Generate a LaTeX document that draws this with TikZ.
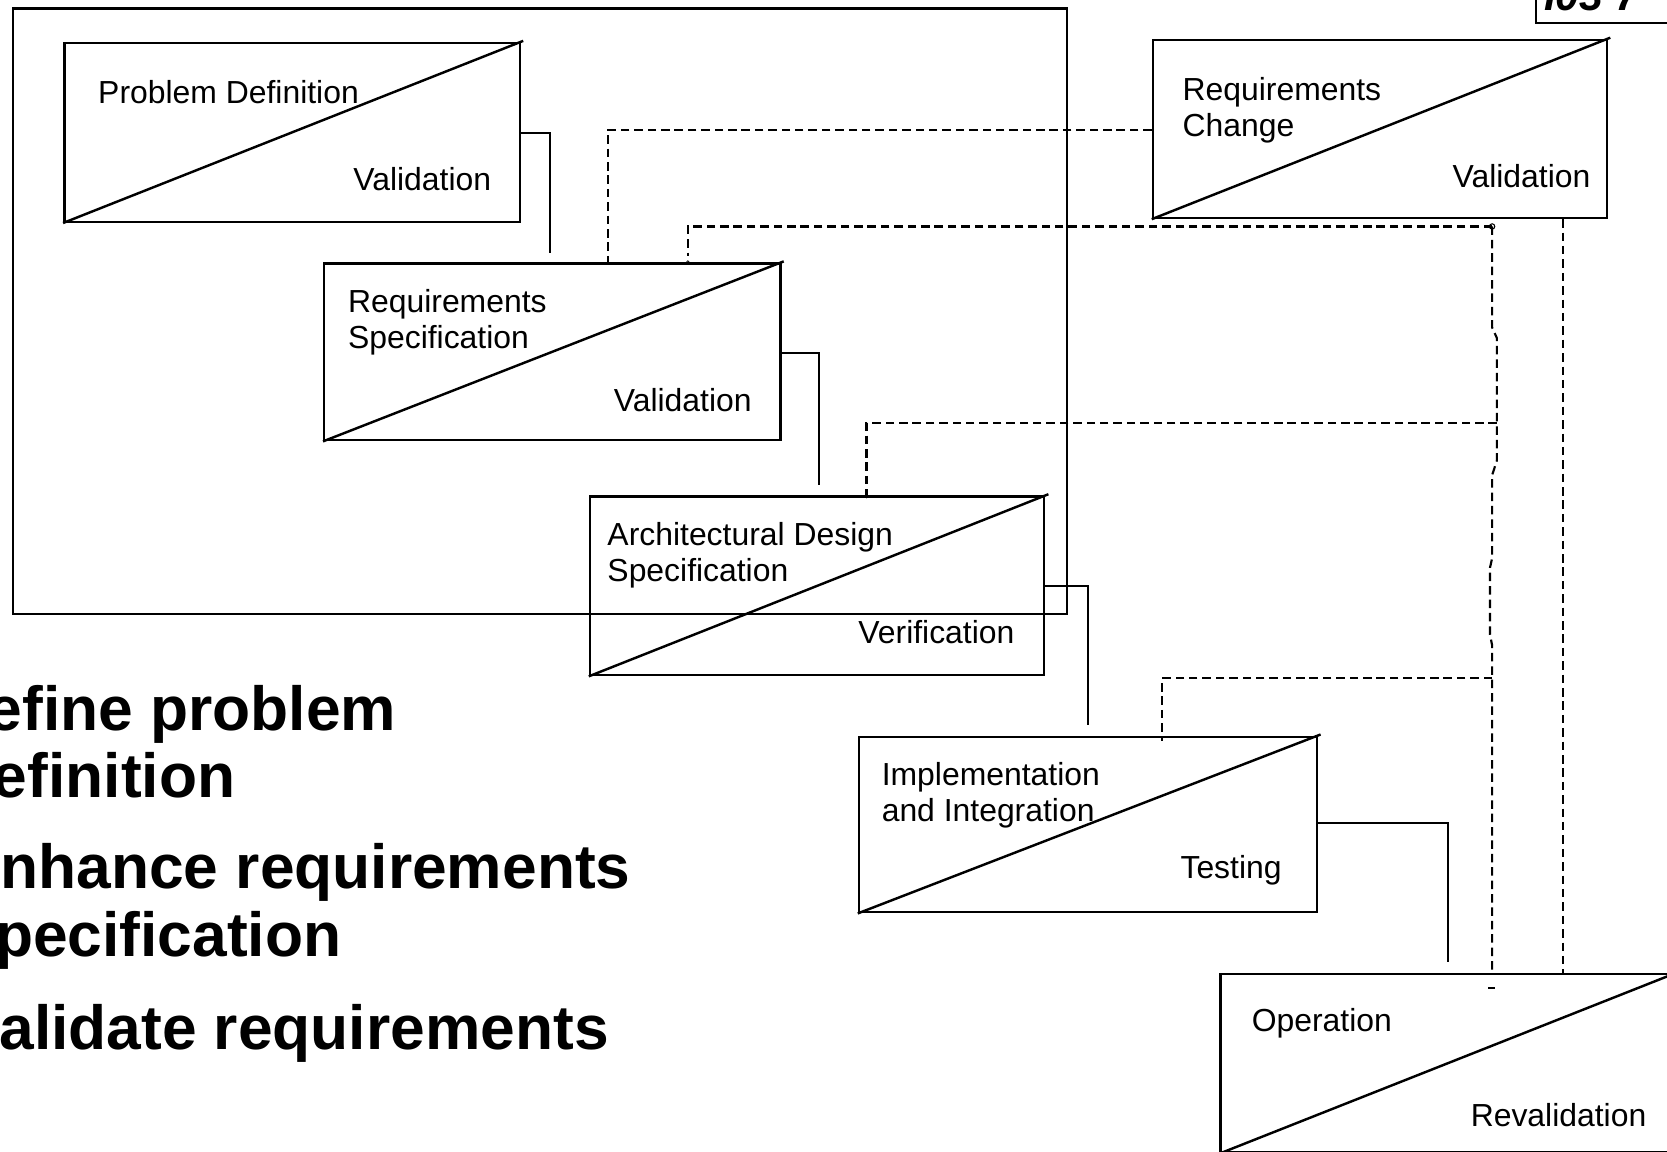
\documentclass[tikz,border=0pt]{standalone}
\usepackage{fontspec}
\setmainfont{Liberation Sans}
\usetikzlibrary{calc}
\begin{document}
\begin{tikzpicture}[x=0.5pt,y=-0.5pt,
  procbox/.style={draw, line width=1.15pt, inner sep=0pt, minimum width=214pt, minimum height=84pt},
  diag/.style={line width=1.15pt},
  lbl/.style={font=\fontsize{15}{17}\selectfont, inner sep=0pt, anchor=base west},
  mlbl/.style={font=\fontsize{15}{17}\selectfont, inner sep=0pt, anchor=north west, align=left},
  conn/.style={line width=1pt},
  dconn/.style={line width=1pt, dash pattern=on 4pt off 2.3pt},
  big/.style={font=\fontsize{29.3}{32}\selectfont\bfseries, inner sep=0pt, anchor=base west}]
\useasboundingbox (0,0) rectangle (1568,1083);
\clip (0,0) rectangle (1568,1083);

% outer frame
\node[draw, line width=1pt, inner sep=0pt, minimum width=495.75pt, minimum height=284.75pt] (frame) at (507.75,292.75) {};

% process boxes
\node[procbox, minimum width=214.25pt] (pd) at (274.75,124.6) {};
\node[procbox, minimum width=214.5pt, minimum height=83pt] (rs) at (519.5,331) {};
\node[procbox, minimum width=213.5pt] (ad) at (768.5,551) {};
\node[procbox, minimum width=215.5pt, minimum height=82.5pt] (ii) at (1023.5,775.5) {};
\node[procbox, minimum width=213.5pt, minimum height=83.7pt] (rc) at (1298,121.3) {};
\node[procbox] (op) at (1362,1000) {};

% diagonals
\draw[diag] (pd.south west) -- ($(pd.north east)+(2,-1)$);
\draw[diag] (rs.south west) -- ($(rs.north east)+(2,-1)$);
\draw[diag] (ad.south west) -- ($(ad.north east)+(3,-1)$);
\draw[diag] (ii.south west) -- ($(ii.north east)+(2,-1)$);
\draw[diag] (rc.south west) -- ($(rc.north east)+(2,-1)$);
\draw[diag] (op.south west) -- (op.north east);

% labels
\node[lbl] (pdt) at (92,97) {Problem Definition};
\node[lbl] (pdv) at (332,179) {Validation};
\node[mlbl] (rst) at (327,271.4) {Requirements\\Specification};
\node[lbl] (rsv) at (577,387) {Validation};
\node[mlbl] (adt) at (571,491) {Architectural Design\\Specification};
\node[lbl] (adv) at (807,605) {Verification};
\node[mlbl] (iit) at (829,716.4) {Implementation\\and Integration};
\node[lbl] (iiv) at (1110,826) {Testing};
\node[mlbl] (rct) at (1112,72.4) {Requirements\\Change};
\node[lbl] (rcv) at (1366,176) {Validation};
\node[lbl] (opt) at (1177,970.6) {Operation};
\node[lbl] (opv) at (1383,1060) {Revalidation};

% solid connectors
\coordinate (c1) at (517,125); \coordinate (c1e) at (517,238);
\draw[conn] (pd.east |- c1) -- (c1) -- (c1e);
\coordinate (c2) at (770,332); \coordinate (c2e) at (770,456);
\draw[conn] (rs.east |- c2) -- (c2) -- (c2e);
\coordinate (c3) at (1023,551); \coordinate (c3e) at (1023,682);
\draw[conn] (ad.east |- c3) -- (c3) -- (c3e);
\coordinate (c4) at (1362,774); \coordinate (c4e) at (1362,905);
\draw[conn] (ii.east |- c4) -- (c4) -- (c4e);

% dashed feedback lines
\coordinate (d1) at (572,122);
\draw[dconn] (rc.west |- d1) -- (d1) -- (d1 |- rs.north);

\coordinate (j1) at (1403.5,213);
\coordinate (d2) at (647,213);
\coordinate (d2e) at (647,241);
\draw[dconn] (j1) -- (d2) -- (d2e);
\draw[line width=0.5pt] (j1) circle[radius=2.5];
\draw[line width=0.3pt] (647,246.5) circle[radius=1.3];

\coordinate (t1) at (1403.5,308); \coordinate (t2) at (1408,318);
\coordinate (t3) at (1408,433);   \coordinate (t4) at (1403.5,447);
\coordinate (t5) at (1403.5,525); \coordinate (t6) at (1401.5,534);
\coordinate (t7) at (1401.5,597); \coordinate (t8) at (1403.5,607);
\coordinate (t9) at (1403.5,912);
\draw[dconn] (j1) -- (t1) -- (t2) -- (t3) -- (t4) -- (t5) -- (t6) -- (t7) -- (t8) -- (t9);
\draw[line width=1pt] (1400,929) -- (1406,929);

\coordinate (j2) at (1408,398); \coordinate (d3) at (815,398);
\draw[dconn] (j2) -- (d3) -- (d3 |- ad.north);
\draw[line width=0.3pt] (815,467) circle[radius=1.3];

\coordinate (j3) at (1403.5,638); \coordinate (d4) at (1093,638); \coordinate (d4e) at (1093,697);
\draw[dconn] (j3) -- (d4) -- (d4e);

\coordinate (v2) at (1470,0);
\draw[dconn] (rc.south -| v2) -- (op.north -| v2);

% slide tag (clipped)
\node[draw, line width=1pt, inner sep=0pt, minimum width=100pt, minimum height=25pt, anchor=south west] (tag) at (1444,22.6) {};
\node[font=\fontsize{20}{22}\selectfont\bfseries\itshape, inner sep=0pt, anchor=base west] (tagt) at (1452,10) {I03 7};

% bullet text (clipped at left)
\node[big] (b1) at (-12,687) {efine problem};
\node[big] (b2) at (-7,750) {efinition};
\node[big] (b3) at (0,836) {nhance requirements};
\node[big] (b4) at (-5,900) {pecification};
\node[big] (b5) at (-1,987) {alidate requirements};
\end{tikzpicture}
\end{document}
